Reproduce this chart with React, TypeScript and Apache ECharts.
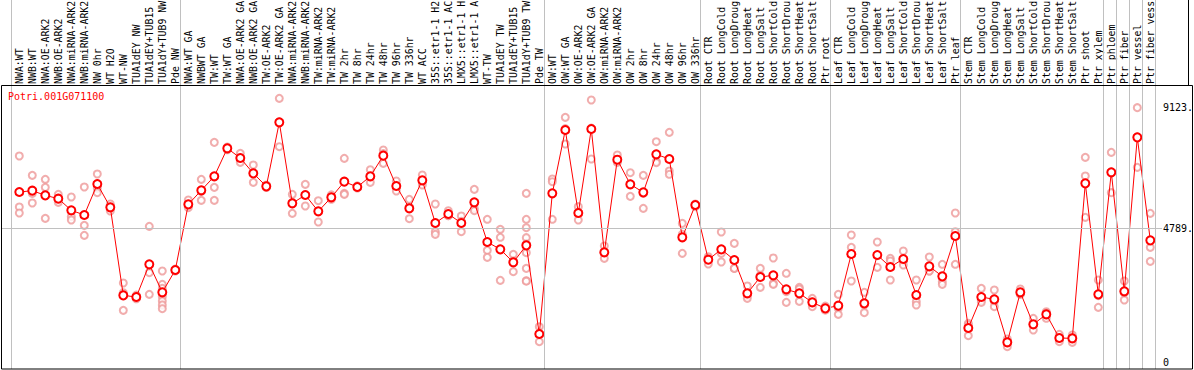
import React, { useEffect, useRef } from "react";
import * as echarts from "echarts";

const title = "Potri.001G071100";

const categories: string[] = [
  "NWA:WT", "NWB:WT", "NWA:OE-ARK2", "NWB:OE-ARK2", "NWA:miRNA-ARK2", "NWB:miRNA-ARK2",
  "NW 0hr", "WT H2O", "WT-NW", "TUA1dEY NW", "TUA1dEY+TUB15 NW", "TUA1dY+TUB9 NW", "Pde NW",
  "NWA:WT GA", "NWBWT GA", "TW:WT", "TW:WT GA", "NWA:OE-ARK2 GA", "NWB:OE-ARK2 GA",
  "TW:OE-ARK2", "TW:OE-ARK2 GA", "NWA:miRNA-ARK2 GA", "NWB:miRNA-ARK2 GA", "TW:miRNA-ARK2",
  "TW:miRNA-ARK2 GA", "TW 2hr", "TW 8hr", "TW 24hr", "TW 48hr", "TW 96hr", "TW 336hr",
  "WT ACC", "35S::etr1-1 H2O", "35S::etr1-1 ACC", "LMX5::etr1-1 H2O", "LMX5::etr1-1 ACC",
  "WT-TW", "TUA1dEY TW", "TUA1dEY+TUB15 TW", "TUA1dY+TUB9 TW", "Pde TW",
  "OW:WT", "OW:WT GA", "OW:OE-ARK2", "OW:OE-ARK2 GA", "OW:miRNA-ARK2", "OW:miRNA-ARK2 GA",
  "OW 2hr", "OW 8hr", "OW 24hr", "OW 48hr", "OW 96hr", "OW 336hr",
  "Root CTR", "Root LongCold", "Root LongDrought", "Root LongHeat", "Root LongSalt",
  "Root ShortCold", "Root ShortDrought", "Root ShortHeat", "Root ShortSalt", "Ptr root",
  "Leaf CTR", "Leaf LongCold", "Leaf LongDrought", "Leaf LongHeat", "Leaf LongSalt",
  "Leaf ShortCold", "Leaf ShortDrought", "Leaf ShortHeat", "Leaf ShortSalt", "Ptr leaf",
  "Stem CTR", "Stem LongCold", "Stem LongDrought", "Stem LongHeat", "Stem LongSalt",
  "Stem ShortCold", "Stem ShortDrought", "Stem ShortHeat", "Stem ShortSalt", "Ptr shoot",
  "Ptr xylem", "Ptr phloem", "Ptr fiber", "Ptr vessel", "Ptr fiber vessel",
];
// the reference shows each category label cut to this many characters
const labelMaxChars = 14;

const means: number[] = [
  6089, 6137, 5970, 5851, 5434, 5267, 6376, 5541, 2392, 2333, 3502, 2500, 3299,
  5648, 6149, 6650, 7652, 7306, 6757, 6292, 8582, 5684, 5982, 5398, 5899, 6459, 6268,
  6650, 7390, 6304, 5505, 6507, 4980, 5302, 4980, 5720, 4301, 4038, 3573, 4181, 1009,
  6042, 8308, 5338, 8343, 3931, 7246, 6364, 6077, 7437, 7270, 4468, 5624,
  3668, 4038, 3657, 2464, 3048, 3108, 2607, 2464, 2142, 1927,
  2023, 3871, 2106, 3835, 3406, 3692, 2404, 3430, 3072, 4515,
  1224, 2333, 2249, 711, 2500, 1355, 1713, 866, 854, 6399, 2428,
  6793, 2536, 8045, 4360,
];

const replicates: number[][] = [
  [7377, 5553, 5338], [6686, 6042, 5696], [6543, 6256, 5147], [6006, 5827, 5720],
  [5911, 5207, 5088], [6268, 4897, 4539], [6733, 6221, 6066], [5660, 5541, 5410],
  [2834, 2486, 1856], [2400, 2333, 2270], [4861, 3203, 2428],
  [3263, 2786, 2643, 2345, 2190, 2046, 1915], [3330, 3299, 3263],
  [5803, 5612, 5529], [6543, 6113, 5791], [7866, 6256, 5791], [7700, 7652, 7600],
  [7473, 7294, 7151], [7055, 6781, 6435], [6340, 6292, 6250], [9441, 8594, 7711],
  [6006, 5720, 5326], [6364, 5993, 5589], [5779, 5399, 5016], [5990, 5899, 5830],
  [7294, 6042, 6006], [6310, 6268, 6230], [6888, 6627, 6435], [7592, 7463, 7115],
  [6483, 6304, 6125], [5827, 5553, 5135], [6698, 6483, 6340], [5660, 4670, 4575],
  [5421, 5242, 5243], [5231, 5039, 4670], [6185, 5505, 5421], [5112, 4002, 3752],
  [4754, 4468, 2929], [3859, 3621, 3239],
  [6042, 5112, 4813, 4456, 4229, 3919, 3358, 2917, 2900], [1271, 1021, 735],
  [6555, 6459, 5112], [8761, 8356, 7807], [5565, 5361, 5088], [9381, 8378, 7270],
  [4157, 3920, 3716], [7413, 7174, 7151], [6781, 6377, 5934], [6686, 6040, 5505],
  [7890, 7187, 7139], [8224, 6841, 6722], [4968, 4575, 3895], [5660, 5624, 5565],
  [3775, 3716, 3513], [4658, 3895, 3585], [4253, 3360, 3358], [2726, 2381, 2285],
  [3358, 3107, 2679], [3728, 2822, 2786], [3180, 2524, 2142], [2679, 2619, 2178],
  [2285, 2154, 1987], [2010, 1927, 1860],
  [2428, 1928, 1713], [4551, 4110, 2905], [2500, 2046, 1772], [4301, 3810, 3394],
  [3716, 3621, 2941], [3979, 3619, 3478], [2941, 2166, 2046], [3764, 3263, 3263],
  [3502, 2881, 2786], [5338, 4670, 3502],
  [1391, 1332, 949], [2643, 2214, 2142], [2583, 2177, 1987], [830, 747, 556],
  [2619, 2453, 2428], [1570, 1343, 1152], [1808, 1761, 1570], [997, 866, 735],
  [973, 878, 711], [7330, 6662, 5183], [2941, 2380, 1963],
  [7509, 6804, 6066], [2905, 2478, 2225], [9107, 8056, 6972], [5326, 4110, 3609],
];

// indices where a new group starts (a separator line is drawn before each)
const groupStarts: number[] = [0, 13, 41, 53, 63, 73, 84, 85, 86, 87, 88];
const yTickValues: number[] = [0, 4789, 9123];
const yTickLabels: string[] = ["0", "4789.", "9123."];
const gridLineValue = 4789;

const MONO = "'DejaVu Sans Mono', monospace";

export default function App() {
  const ref = useRef<HTMLDivElement>(null);
  useEffect(() => {
    if (!ref.current) return;
    const chart = echarts.init(ref.current, undefined, { renderer: "svg" });
    const repData: number[][] = [];
    replicates.forEach((arr, i) => arr.forEach((v) => repData.push([i, v])));
    const meanData = means.map((v, i) => [i, v]);

    chart.setOption({
      animation: false,
      backgroundColor: "#ffffff",
      title: {
        text: title,
        left: 8,
        top: 91,
        padding: 0,
        textStyle: { fontFamily: MONO, fontSize: 10, fontWeight: "normal", color: "#ff0000" },
      },
      grid: [
        { left: 2, right: 32, top: 0, bottom: 1, outerBoundsMode: "none", containLabel: false },
        { left: 12.8, right: 37.2, top: 85, bottom: 1, outerBoundsMode: "none", containLabel: false },
      ],
      xAxis: [
        { type: "value", gridIndex: 0, min: -1.3308, max: 87.9, show: false },
        {
          type: "category",
          gridIndex: 1,
          position: "top",
          data: categories,
          axisLine: { show: false },
          axisTick: { show: false },
          splitLine: { show: false },
          axisLabel: {
            interval: 0,
            rotate: 90,
            margin: 1,
            fontFamily: MONO,
            fontSize: 9.9,
            color: "#000000",
            formatter: (v: string) => v.slice(0, labelMaxChars).trimEnd(),
          },
        },
      ],
      yAxis: [
        {
          type: "value",
          gridIndex: 0,
          position: "right",
          min: -243,
          max: 12959,
          axisLine: { show: false },
          axisTick: { show: false },
          splitLine: { show: false },
          axisLabel: {
            customValues: yTickValues,
            margin: 1,
            fontFamily: MONO,
            fontSize: 10,
            color: "#000000",
            formatter: (v: number) => {
              const k = yTickValues.indexOf(v);
              return k >= 0 ? yTickLabels[k] : "";
            },
          },
        },
        { type: "value", gridIndex: 1, show: false },
      ],
      graphic: [
        {
          type: "rect",
          silent: true,
          z: 100,
          shape: { x: 1.5, y: 85.5, width: 1191, height: 283.5 },
          style: { fill: "none", stroke: "#000000", lineWidth: 1 },
        },
        {
          type: "line",
          silent: true,
          z: 100,
          shape: { x1: 1188.5, y1: 0, x2: 1188.5, y2: 85 },
          style: { stroke: "#000000", lineWidth: 1 },
        },
      ],
      series: [
        {
          type: "scatter",
          xAxisIndex: 0,
          yAxisIndex: 0,
          data: repData,
          symbol: "emptyCircle",
          symbolSize: 7,
          itemStyle: { color: "#ee9999", borderColor: "#ee9999", borderWidth: 1 },
          silent: true,
          z: 2,
          markLine: {
            silent: true,
            symbol: "none",
            label: { show: false },
            lineStyle: { color: "#c0c0c0", width: 1, type: "solid" },
            data: [
              ...groupStarts.map((s) => ({ xAxis: s - 0.615 })),
              { yAxis: gridLineValue },
            ],
          },
        },
        {
          type: "line",
          xAxisIndex: 0,
          yAxisIndex: 0,
          data: meanData,
          symbol: "emptyCircle",
          symbolSize: 8,
          showAllSymbol: true,
          lineStyle: { color: "#ff0000", width: 1 },
          itemStyle: { color: "#ff0000", borderColor: "#ff0000", borderWidth: 1.5 },
          silent: true,
          z: 3,
        },
      ],
    });
    return () => chart.dispose();
  }, []);
  return (
    <div
      ref={ref}
      style={{ position: "fixed", left: 0, top: 0, width: 1194, height: 370, background: "#fff" }}
    />
  );
}
